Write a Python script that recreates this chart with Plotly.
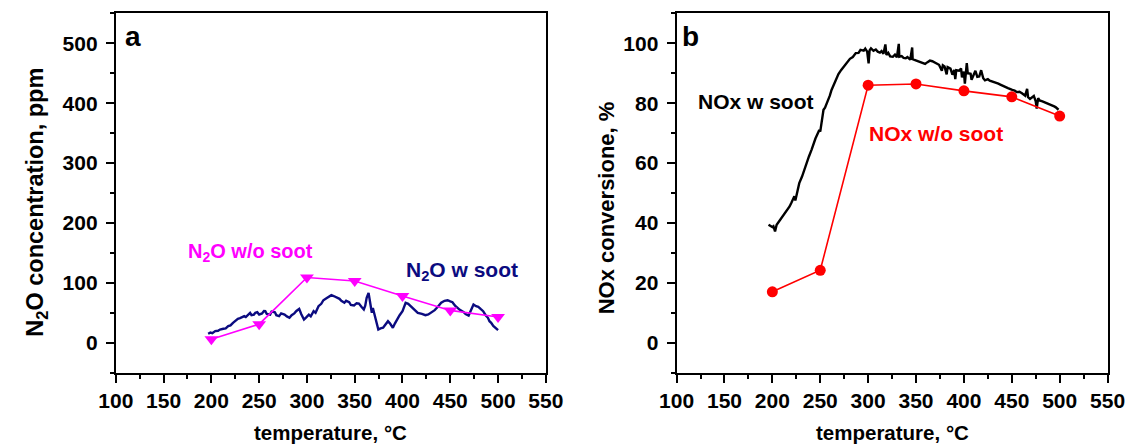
import plotly.graph_objects as go

# ---------------- data ----------------
# Panel a: N2O w/o soot (discrete points)
n2o_wo_temp = [200, 250, 300, 350, 400, 450, 500]
n2o_wo_ppm = [6, 31, 109, 103, 78, 54, 43]

# Panel a: N2O w soot (continuous trace)
n2o_w_temp = [196.6, 199, 201, 204, 207, 209, 212.5, 215, 217.6, 220, 222.6, 225, 227.7, 230, 232,
              234.4, 236, 238, 240.5, 242, 244.5, 246, 248, 250, 253, 255, 256.4, 258, 261.5, 263,
              266.5, 268, 270.9, 273, 276.6, 279, 281.7, 284, 286.8, 289, 291.9, 294, 296.9, 299, 302,
              304, 307, 309, 312.1, 315, 317.2, 320, 322, 325.6, 328, 331, 334.1, 336, 339.2, 341,
              344.2, 346, 349.3, 352, 354.4, 357, 359.5, 361, 362.5, 364.5, 366, 367.9, 369, 371.2, 373,
              374.7, 377, 379.7, 382, 384.8, 387, 389.9, 392, 395, 397, 400, 402, 403.3, 406, 408.4,
              411, 413.5, 416, 420.3, 424, 427, 430, 433.7, 437, 440.5, 444, 447.2, 450, 452.3, 455,
              457.4, 460, 464.1, 466, 469.2, 471, 474.3, 477, 479.3, 482, 484.4, 487, 489.4, 491, 492.8,
              495, 498.6, 500]
n2o_w_ppm = [15, 17, 16, 19.4, 20, 22, 23.3, 24, 27.7, 29, 33.3, 36, 40, 41, 43,
             44.4, 43, 47, 50, 46, 47, 50, 51, 47, 49, 53, 52.7, 48, 47, 52,
             51, 46, 44.4, 49, 47, 44, 41.6, 46, 49, 53, 56.6, 48, 38.8, 42, 47,
             44, 52.7, 50, 61, 65, 71, 74, 76, 79.4, 78, 76, 73.3, 70, 66.7, 70,
             67.7, 63, 62.2, 66, 65.5, 60, 55.5, 62, 75, 83.3, 65, 50, 58, 44.4, 30,
             22.2, 24, 25, 30, 36, 32, 25, 32, 41.6, 46, 52.7, 62, 66.7, 65, 61,
             57, 52.7, 50, 48.3, 46, 47.2, 50, 54.4, 60, 66.7, 70, 71, 69, 67.7, 62,
             58.3, 55, 51, 48, 45.5, 52, 63.8, 61, 60, 56, 52.7, 46, 41.6, 36, 33.3,
             28, 22.2, 21]

# Panel b: NOx w/o soot (discrete points)
nox_wo_temp = [200, 250, 300, 350, 400, 450, 500]
nox_wo_conv = [17, 24.2, 86, 86.4, 84.1, 82.1, 75.7]

# Panel b: NOx w soot (continuous trace)
nox_w_temp = [196, 198, 200, 201.1, 202.8, 204.5, 207, 209, 211.2, 214, 216, 218, 220, 223, 224,
              226, 228.1, 231, 233.2, 236, 238.2, 241, 243.3, 245, 247.6, 249, 250, 251.7, 253.4, 255,
              258.4, 260, 261.8, 264, 266.8, 269, 271.9, 275, 278.7, 281, 284, 287.1, 290, 292, 295.4,
              297, 299, 300.5, 301.5, 303, 305.6, 308, 310, 312.3, 314, 316, 318, 319.1, 321, 323,
              325.8, 328, 330, 332, 332.6, 335, 337, 339.3, 341, 344, 346, 346.5, 349, 352.8, 356,
              359.5, 362, 364.5, 367, 371.3, 374, 377, 378, 379.8, 382, 383, 386, 388, 389.9, 391,
              392, 395, 397, 398, 400, 401, 402, 403, 404, 407, 408, 410.1, 412, 414, 416,
              418, 420.2, 422, 425, 427, 430.3, 433, 436, 438, 440.4, 443, 446, 450.5, 453, 455,
              458, 460.6, 462, 464, 466, 467, 469, 471, 473, 475, 476, 477.5, 479, 482, 485,
              487.6, 490, 492, 494.3, 496, 498.8]
nox_w_conv = [39.4, 39, 38.6, 38.9, 37.2, 39.4, 40.5, 41.2, 42.2, 43.6, 44.5, 45.5, 46.8, 48.9, 47.5,
              51, 53.3, 55.5, 57.8, 60, 62.2, 64.5, 66.7, 68.2, 70, 71, 70.5, 74.4, 77.8, 78.5,
              81.1, 82.5, 84.4, 86, 87.8, 89.7, 91.1, 92.5, 93.9, 94.8, 95.4, 96.7, 96.8, 97.8, 97.5,
              98.2, 97.2, 93.3, 97.6, 98.3, 97.5, 97.9, 97.2, 96.9, 97.4, 96.5, 99.6, 96.1, 96.8, 95.6,
              95.5, 96.2, 95.3, 99.8, 95.5, 95.7, 95.1, 95, 95.4, 94.5, 98.6, 94.7, 94.4, 93.9, 93.6,
              93.1, 93.7, 94.2, 94, 93.3, 92.8, 90.8, 92.6, 92.2, 89.6, 92, 91.5, 89.5, 91.1, 88,
              91, 90.8, 91.6, 88.6, 90.5, 86.5, 90.3, 93.4, 90, 89.8, 87.8, 89.4, 90.8, 88.8, 88.9,
              91, 88.3, 87.6, 88, 87.5, 87.2, 86.8, 86.5, 86.2, 85.8, 85.5, 85, 84.4, 84.2, 83.7,
              83.8, 83.3, 83, 82.5, 84.8, 82, 81.4, 82, 82.4, 80.6, 78.2, 81.7, 80.9, 80.6, 80.2,
              80, 79.6, 79.2, 78.9, 78.6, 77.8]

x_range = [100, 550]
ya_range = [-50, 550]
yb_range = [-10, 110]

# ---------------- figure ----------------
W, H = 1143, 446
FONT = "Liberation Sans, Arial, sans-serif"

fig = go.Figure()

fig.add_trace(go.Scatter(x=n2o_w_temp, y=n2o_w_ppm, mode="lines",
                         line=dict(color="#0b0b80", width=2.4),
                         xaxis="x", yaxis="y", showlegend=False))
fig.add_trace(go.Scatter(x=n2o_wo_temp, y=n2o_wo_ppm, mode="lines+markers",
                         line=dict(color="#ff00ff", width=1.6),
                         marker=dict(symbol="triangle-down", size=12, color="#ff00ff"),
                         xaxis="x", yaxis="y", showlegend=False))
fig.add_trace(go.Scatter(x=nox_w_temp, y=nox_w_conv, mode="lines",
                         line=dict(color="black", width=2.4),
                         xaxis="x2", yaxis="y2", showlegend=False))
fig.add_trace(go.Scatter(x=nox_wo_temp, y=nox_wo_conv, mode="lines+markers",
                         line=dict(color="#ff0000", width=1.6),
                         marker=dict(symbol="circle", size=11, color="#ff0000"),
                         xaxis="x2", yaxis="y2", showlegend=False))

tickfont = dict(family=FONT, size=21, color="black", weight="bold")


def xax(domain, anchor):
    return dict(domain=domain, anchor=anchor, range=x_range, tick0=100, dtick=50,
                ticks="outside", ticklen=8, tickwidth=2, tickcolor="black",
                minor=dict(dtick=25, tick0=100, ticks="outside", ticklen=4, tickwidth=2, tickcolor="black"),
                showline=True, linewidth=2, linecolor="black", mirror=True,
                showgrid=False, zeroline=False, tickfont=tickfont)


def yax(domain, anchor, rng, dt, mdt):
    return dict(domain=domain, anchor=anchor, range=rng, tick0=0, dtick=dt,
                ticks="outside", ticklen=8, tickwidth=2, tickcolor="black",
                minor=dict(dtick=mdt, tick0=0, ticks="outside", ticklen=4, tickwidth=2, tickcolor="black"),
                showline=True, linewidth=2, linecolor="black", mirror=True,
                showgrid=False, zeroline=False, tickfont=tickfont, ticklabelstandoff=4)


ydom = [1 - 372.7 / H, 1 - 13.3 / H]
fig.update_layout(
    width=W, height=H,
    margin=dict(l=0, r=0, t=0, b=0),
    paper_bgcolor="white", plot_bgcolor="white",
    xaxis=xax([101 / W, 545 / W], "y"),
    yaxis=yax(ydom, "x", ya_range, 100, 50),
    xaxis2=xax([680 / W, 1125 / W], "y2"),
    yaxis2=yax(ydom, "x2", yb_range, 20, 10),
)

ann_font = lambda c, s: dict(family=FONT, size=s, color=c)
annotations = [
    # panel letters
    dict(x=118, y=511, xref="x", yref="y", text="<b>a</b>", showarrow=False,
         font=ann_font("black", 28), xanchor="center", yanchor="middle"),
    dict(x=115, y=102.2, xref="x2", yref="y2", text="<b>b</b>", showarrow=False,
         font=ann_font("black", 28), xanchor="center", yanchor="middle"),
    # series labels
    dict(x=241, y=150, xref="x", yref="y", text="<b>N<sub>2</sub>O w/o soot</b>", showarrow=False,
         font=ann_font("#ff00ff", 20), xanchor="center", yanchor="middle"),
    dict(x=462, y=120, xref="x", yref="y", text="<b>N<sub>2</sub>O w soot</b>", showarrow=False,
         font=ann_font("#0b0b80", 21), xanchor="center", yanchor="middle"),
    dict(x=183, y=80.5, xref="x2", yref="y2", text="<b>NOx w soot</b>", showarrow=False,
         font=ann_font("black", 21), xanchor="center", yanchor="middle"),
    dict(x=370.5, y=70, xref="x2", yref="y2", text="<b>NOx w/o soot</b>", showarrow=False,
         font=ann_font("#ff0000", 21), xanchor="center", yanchor="middle"),
    # axis titles
    dict(x=323 / W, y=1 - 432 / H, xref="paper", yref="paper", text="<b>temperature, °C</b>",
         showarrow=False, font=ann_font("black", 20.5), xanchor="center", yanchor="middle"),
    dict(x=902.5 / W, y=1 - 432 / H, xref="paper", yref="paper", text="<b>temperature, °C</b>",
         showarrow=False, font=ann_font("black", 20.5), xanchor="center", yanchor="middle"),
    dict(x=19.6 / W, y=1 - 201.7 / H, xref="paper", yref="paper",
         text="<b>N<sub>2</sub>O concentration, ppm</b>", textangle=-90,
         showarrow=False, font=ann_font("black", 23.5), xanchor="center", yanchor="middle"),
    dict(x=607.5 / W, y=1 - 208 / H, xref="paper", yref="paper",
         text="<b>NOx conversione, %</b>", textangle=-90,
         showarrow=False, font=ann_font("black", 22), xanchor="center", yanchor="middle"),
]
fig.update_layout(annotations=annotations)

fig.write_html("out.html")
